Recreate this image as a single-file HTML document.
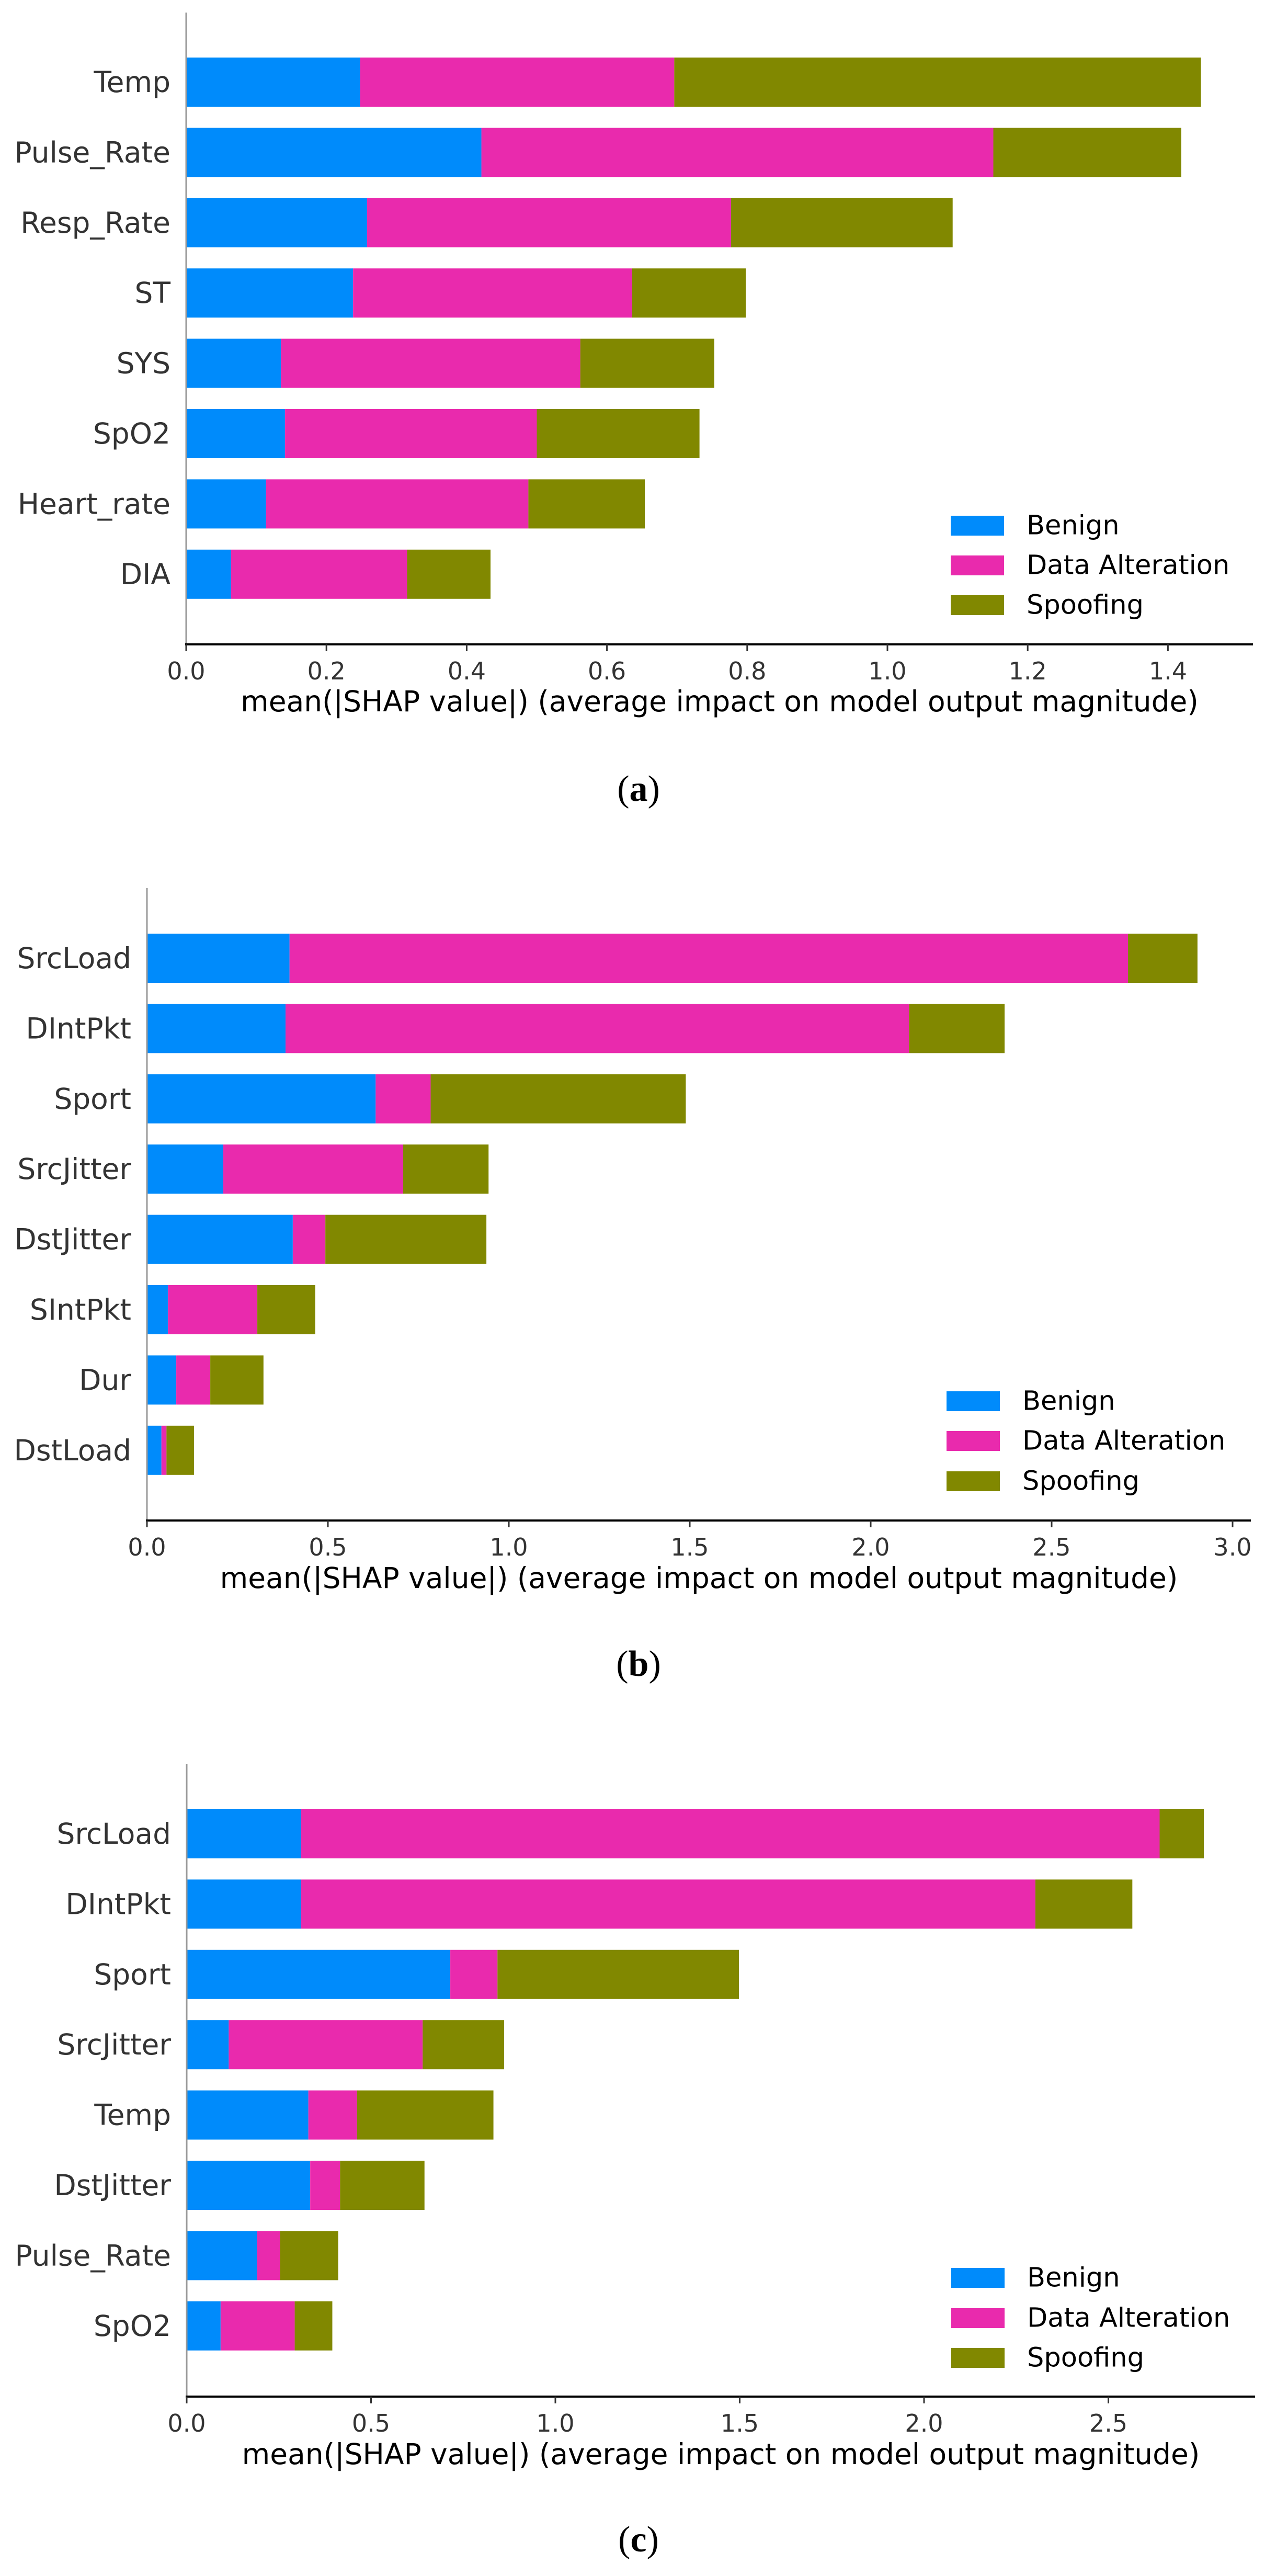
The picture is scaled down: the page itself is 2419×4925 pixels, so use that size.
<!DOCTYPE html>
<html><head><meta charset="utf-8">
<style>
html,body{margin:0;padding:0;background:#fff;}
svg{display:block;}
text{font-family:"DejaVu Sans","Liberation Sans",sans-serif;}
</style></head>
<body>
<svg id="fig" width="2419" height="4925" viewBox="0 0 2419 4925" xmlns="http://www.w3.org/2000/svg"></svg>
<script>
// ---- data ----
const seriesNames = ["Benign","Data Alteration","Spoofing"];
const seriesColors = ["#008bfb","#e92aad","#818800"];

const catsA = ["Temp","Pulse_Rate","Resp_Rate","ST","SYS","SpO2","Heart_rate","DIA"];
const benignA = [0.248,0.421,0.258,0.238,0.135,0.141,0.114,0.064];
const alterA  = [0.448,0.730,0.519,0.398,0.427,0.359,0.374,0.251];
const spoofA  = [0.751,0.268,0.316,0.162,0.191,0.232,0.166,0.119];
const ticksA = ["0.0","0.2","0.4","0.6","0.8","1.0","1.2","1.4"];

const catsB = ["SrcLoad","DIntPkt","Sport","SrcJitter","DstJitter","SIntPkt","Dur","DstLoad"];
const benignB = [0.394,0.383,0.632,0.211,0.403,0.058,0.081,0.040];
const alterB  = [2.317,1.723,0.152,0.497,0.090,0.247,0.094,0.014];
const spoofB  = [0.192,0.264,0.705,0.236,0.445,0.160,0.147,0.076];
const ticksB = ["0.0","0.5","1.0","1.5","2.0","2.5","3.0"];

const catsC = ["SrcLoad","DIntPkt","Sport","SrcJitter","Temp","DstJitter","Pulse_Rate","SpO2"];
const benignC = [0.310,0.310,0.715,0.114,0.330,0.335,0.191,0.092];
const alterC  = [2.329,1.992,0.128,0.526,0.132,0.081,0.062,0.201];
const spoofC  = [0.120,0.263,0.655,0.221,0.370,0.229,0.158,0.102];
const ticksC = ["0.0","0.5","1.0","1.5","2.0","2.5"];

// ---- layout (not data) ----
const panels = [
 {id:"a", cats:catsA, vals:[benignA,alterA,spoofA], ticks:ticksA,
  x0:356, unit:1341, xEnd:2396, yTop:24, y0:157, axisY:1232, titleY:1360, capY:1531, legY:[1005,1081,1157], legX:1818},
 {id:"b", cats:catsB, vals:[benignB,alterB,spoofB], ticks:ticksB,
  x0:281, unit:692, xEnd:2392, yTop:1698, y0:1832, axisY:2907, titleY:3036, capY:3204, legY:[2679,2755,2832], legX:1810},
 {id:"c", cats:catsC, vals:[benignC,alterC,spoofC], ticks:ticksC,
  x0:357, unit:705, xEnd:2400, yTop:3373, y0:3506, axisY:4582, titleY:4711, capY:4878, legY:[4355,4432,4508], legX:1819}
];
const pitch = 134.4, barH = 94;
const NS = "http://www.w3.org/2000/svg";
const svg = document.getElementById("fig");
function mk(tag, attrs, parent){
  const e = document.createElementNS(NS, tag);
  for (const k in attrs) e.setAttribute(k, attrs[k]);
  (parent||svg).appendChild(e);
  return e;
}

panels.forEach(p => {
  const g = mk("g", {});
  
  
  const xs = v => p.x0 + v * p.unit;
  const ys = i => p.y0 + i * pitch;

  p.cats.forEach((c, i) => {
    let acc = 0;
    p.vals.forEach((arr, s) => {
      const v = arr[i];
      const r = mk("rect", {x: xs(acc), y: ys(i) - barH/2, width: Math.max(0, xs(acc+v) - xs(acc)), height: barH, fill: seriesColors[s]}, g);
      
      
      acc += v;
    });
    const t = mk("text", {x: p.x0 - 30, y: ys(i), "font-size": 55, fill: "#333", "text-anchor": "end", "dominant-baseline": "central"}, g);
    t.textContent = c;
    
    
  });

  const ya = mk("line", {x1: p.x0, y1: p.yTop, x2: p.x0, y2: p.axisY, stroke: "#999", "stroke-width": 3}, g);
  
  
  const xa = mk("line", {x1: p.x0 - 2, y1: p.axisY, x2: p.xEnd, y2: p.axisY, stroke: "#000", "stroke-width": 4}, g);
  
  

  p.ticks.forEach(lbl => {
    const v = parseFloat(lbl);
    const tk = mk("line", {x1: xs(v), y1: p.axisY, x2: xs(v), y2: p.axisY + 13, stroke: "#333", "stroke-width": 3}, g);
    
    
    const tt = mk("text", {x: xs(v), y: p.axisY + 67, "font-size": 46, fill: "#333", "text-anchor": "middle"}, g);
    tt.textContent = lbl;
    
    
  });

  const title = mk("text", {x: (p.x0 + p.xEnd)/2, y: p.titleY, "font-size": 55, fill: "#000", "text-anchor": "middle"}, g);
  title.textContent = "mean(|SHAP value|) (average impact on model output magnitude)";
  
  

  seriesNames.forEach((n, s) => {
    const lr = mk("rect", {x: p.legX, y: p.legY[s] - 19, width: 102, height: 38, fill: seriesColors[s]}, g);
    
    
    const lt = mk("text", {x: p.legX + 145, y: p.legY[s], "font-size": 51, fill: "#000", "dominant-baseline": "central"}, g);
    lt.textContent = n;
    
    
  });

  const cap = mk("text", {x: 1221, y: p.capY, "font-size": 70, fill: "#000", "text-anchor": "middle"}, g);
  cap.setAttribute('style', 'font-family:"Liberation Serif",serif');
  
  
  const t1 = mk("tspan", {}, cap); t1.textContent = "(";
  const t2 = mk("tspan", {"font-weight": "bold"}, cap); t2.textContent = p.id;
  const t3 = mk("tspan", {}, cap); t3.textContent = ")";
});
</script>
</body></html>
